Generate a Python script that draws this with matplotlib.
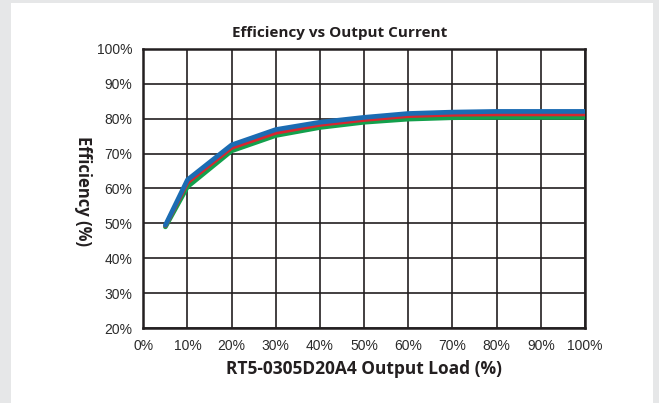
import matplotlib
matplotlib.use("Agg")
import matplotlib.pyplot as plt

load = [5, 10, 20, 30, 40, 50, 60, 70, 80, 90, 100]
eff_green = [49.0, 60.5, 70.8, 75.2, 77.5, 79.0, 79.9, 80.3, 80.4, 80.4, 80.4]
eff_red = [49.3, 61.7, 71.7, 76.0, 78.3, 79.7, 80.8, 81.2, 81.3, 81.3, 81.3]
eff_blue = [49.5, 62.5, 72.5, 76.9, 79.0, 80.4, 81.5, 81.9, 82.1, 82.1, 82.1]

xticks = list(range(0, 101, 10))
yticks = list(range(20, 101, 10))

fig = plt.figure(figsize=(6.59, 4.03), dpi=100)
fig.patch.set_facecolor("#e6e7e8")

# white panel behind the chart
bg = fig.add_axes([11 / 659, 0, (653 - 11) / 659, 400 / 403])
bg.axis("off")
bg.add_patch(plt.Rectangle((0, 0), 1, 1, transform=bg.transAxes,
                           facecolor="white", edgecolor="none"))

ax = fig.add_axes([143.3 / 659, 75 / 403, 441.7 / 659, 279 / 403])
ax.set_facecolor("white")

ax.plot(load, eff_green, color="#13a04c", lw=3.4, solid_capstyle="round", zorder=3)
ax.plot(load, eff_red, color="#d8262f", lw=3.0, solid_capstyle="round", zorder=4)
ax.plot(load, eff_blue, color="#1b6cb3", lw=3.4, solid_capstyle="round", zorder=5)

ax.set_xlim(0, 100)
ax.set_ylim(20, 100)
ax.set_xticks(xticks)
ax.set_yticks(yticks)
ax.set_xticklabels([f"{v}%" for v in xticks])
ax.set_yticklabels([f"{v}%" for v in yticks])
ax.grid(True, color="#231f20", lw=1.2)
ax.set_axisbelow(True)
for s in ax.spines.values():
    s.set_color("#231f20")
    s.set_linewidth(1.8)
ax.tick_params(length=0, labelsize=10, labelcolor="#2b2b2b", pad=8)
for lab in ax.get_xticklabels() + ax.get_yticklabels():
    lab.set_fontfamily("Liberation Sans")

ax.set_xlabel("RT5-0305D20A4 Output Load (%)", fontfamily="Open Sans",
              fontweight="bold", fontsize=12.5, color="#231f20", labelpad=5)
fig.text(83 / 659, 1 - 191 / 403, "Efficiency (%)", rotation=270,
         fontfamily="Open Sans", fontweight="bold", fontsize=12,
         color="#231f20", ha="center", va="center")
fig.text(340 / 659, 1 - 33 / 403, "Efficiency vs Output Current",
         fontfamily="Open Sans", fontweight="bold", fontsize=11,
         color="#231f20", ha="center", va="center")

fig.savefig("out.png", dpi=100)
